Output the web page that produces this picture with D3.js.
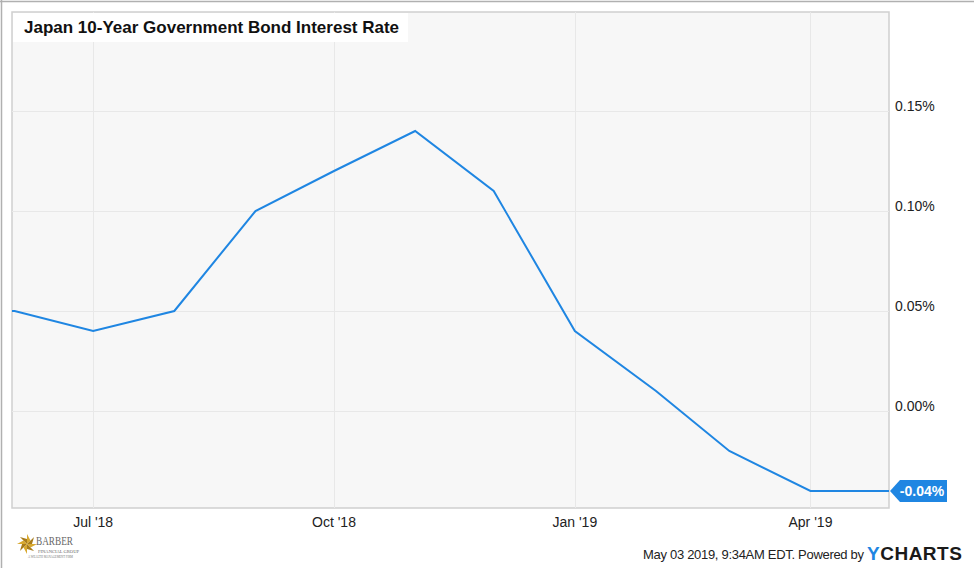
<!DOCTYPE html>
<html>
<head>
<meta charset="utf-8">
<script src="https://cdn.jsdelivr.net/npm/d3@7"></script>
<style>
html,body{margin:0;padding:0;background:#fff;}
svg{display:block;font-family:Arial,"Liberation Sans",sans-serif;}
</style>
</head>
<body>
<svg id="chart" width="974" height="568"></svg>
<script>
const title = "Japan 10-Year Government Bond Interest Rate";
const dates = ["2018-05-01","2018-06-01","2018-07-01","2018-08-01","2018-09-01","2018-10-01","2018-11-01","2018-12-01","2019-01-01","2019-02-01","2019-03-01","2019-04-01","2019-05-01"];
const rates = [0.05,0.05,0.04,0.05,0.10,0.12,0.14,0.11,0.04,0.01,-0.02,-0.04,-0.04];
const yTicks = [0.00,0.05,0.10,0.15];
const xTickDates = ["2018-07-01","2018-10-01","2019-01-01","2019-04-01"];
const xTickLabels = ["Jul '18","Oct '18","Jan '19","Apr '19"];
const lastLabel = "-0.04%";
const footer = "May 03 2019, 9:34AM EDT. Powered by";

const parse = d3.utcParse("%Y-%m-%d");
const data = dates.map((d,i)=>({date:parse(d), v:rates[i]}));

const svg = d3.select("#chart");
const L=12, R=889, T=12, B=508;

const x = d3.scaleUtc().domain([parse("2018-05-31"), parse("2019-05-01")]).range([L,R]);
const y = d3.scaleLinear().domain([-0.0485, 0.1995]).range([B,T]);

// outer frame (top & left)
svg.append("line").attr("x1",0).attr("x2",974).attr("y1",1.5).attr("y2",1.5).attr("stroke","#b0b0b0").attr("stroke-width",1.5);
svg.append("line").attr("x1",1.5).attr("x2",1.5).attr("y1",0).attr("y2",568).attr("stroke","#b0b0b0").attr("stroke-width",1.5);

// plot bg
svg.append("rect").attr("x",L).attr("y",T).attr("width",R-L).attr("height",B-T)
  .attr("fill","#f7f7f7").attr("stroke","#cfcfcf").attr("stroke-width",1.5);

svg.append("defs").append("clipPath").attr("id","clip")
  .append("rect").attr("x",L).attr("y",T).attr("width",R-L).attr("height",B-T);

// grid
const g = svg.append("g");
g.selectAll("line.h").data(yTicks).join("line")
  .attr("x1",L).attr("x2",R).attr("y1",d=>Math.round(y(d))+0.5).attr("y2",d=>Math.round(y(d))+0.5)
  .attr("stroke","#e8e8e8").attr("stroke-width",1);
g.selectAll("line.v").data(xTickDates).join("line")
  .attr("y1",T).attr("y2",B).attr("x1",d=>Math.round(x(parse(d)))+0.5).attr("x2",d=>Math.round(x(parse(d)))+0.5)
  .attr("stroke","#e8e8e8").attr("stroke-width",1);

// y labels
svg.selectAll("text.yl").data(yTicks).join("text")
  .attr("x",895).attr("y",d=>y(d)-0.5)
  .attr("font-size",14).attr("fill","#222")
  .text(d=>d3.format(".2f")(d)+"%");

// x labels
svg.selectAll("text.xl").data(xTickDates).join("text")
  .attr("x",d=>x(parse(d))).attr("y",527).attr("text-anchor","middle")
  .attr("font-size",14).attr("fill","#222")
  .text((d,i)=>xTickLabels[i]);

// line
const line = d3.line().x(d=>x(d.date)).y(d=>y(d.v));
svg.append("path").datum(data).attr("clip-path","url(#clip)")
  .attr("d",line).attr("fill","none").attr("stroke","#1f86e2").attr("stroke-width",2)
  .attr("stroke-linejoin","miter");

// last value tag
const ly = y(rates[rates.length-1]);
const tx = R+1;
svg.append("path")
  .attr("d",`M${tx},${ly} L${tx+10},${ly-11} L${tx+57},${ly-11} L${tx+57},${ly+11} L${tx+10},${ly+11} Z`)
  .attr("fill","#1f86e2");
svg.append("text").attr("x",tx+32).attr("y",ly+5).attr("text-anchor","middle")
  .attr("font-size",14).attr("font-weight","bold").attr("fill","#fff").text(lastLabel);

// title box
svg.append("rect").attr("x",L+1).attr("y",T+1).attr("width",395).attr("height",29).attr("fill","#fff");
svg.append("text").attr("x",24).attr("y",33).attr("font-size",17).attr("font-weight","bold").attr("fill","#111").text(title);

// footer
svg.append("text").attr("x",643).attr("y",559).attr("font-size",13)
  .attr("letter-spacing",-0.3).attr("fill","#222").text(footer);
const yc = svg.append("text").attr("x",867).attr("y",560).attr("font-size",19).attr("font-weight","bold")
  .attr("letter-spacing",0.5);
yc.append("tspan").attr("fill","#1f86e2").text("Y");
yc.append("tspan").attr("fill","#1a1a1a").text("CHARTS");

// logo
const lg = svg.append("g").attr("transform","translate(27,544)");
const petals = d3.range(8);
lg.selectAll("path").data(petals).join("path")
  .attr("d","M0,0 L3.5,-3.5 L0,-10 Z")
  .attr("transform",d=>`rotate(${d*45})`)
  .attr("fill",(d,i)=>i%2?"#a87c1c":"#d8a930");
svg.append("text").attr("x",36).attr("y",545).attr("font-family","'Liberation Serif','DejaVu Serif',serif").attr("font-size",12)
  .attr("textLength",37).attr("lengthAdjust","spacingAndGlyphs").attr("fill","#666").text("BARBER");
svg.append("text").attr("x",38).attr("y",553).attr("font-family","'Liberation Serif',serif").attr("font-size",5)
  .attr("textLength",41).attr("lengthAdjust","spacingAndGlyphs").attr("fill","#666").text("FINANCIAL GROUP");
svg.append("text").attr("x",28).attr("y",558).attr("font-family","'Liberation Serif',serif").attr("font-size",3)
  .attr("textLength",45).attr("lengthAdjust","spacingAndGlyphs").attr("fill","#777").text("A WEALTH MANAGEMENT FIRM");
</script>
</body>
</html>
